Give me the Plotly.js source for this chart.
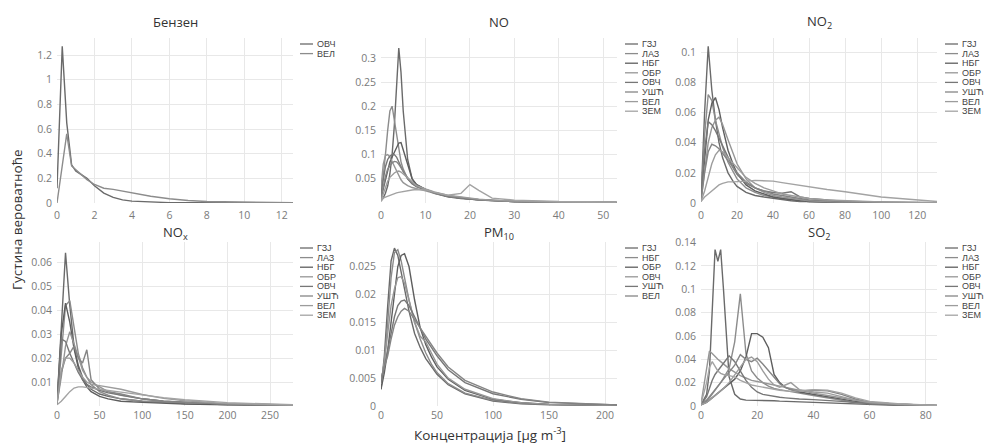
<!DOCTYPE html>
<html><head><meta charset="utf-8">
<script src="https://cdn.plot.ly/plotly-3.0.1.min.js"></script>
<style>html,body{margin:0;padding:0;background:#fff}#chart{width:984px;height:445px}</style>
</head><body><div id="chart"></div>
<script>
// ---- data ----
const stations8 = ['ГЗЈ','ЛАЗ','НБГ','ОБР','ОВЧ','УШЋ','ВЕЛ','ЗЕМ'];
const benzStations = ['ОВЧ','ВЕЛ'];
const pm10Stations = ['ГЗЈ','НБГ','ОБР','ОВЧ','УШЋ','ВЕЛ'];
const panelTitles = ['Бензен','NO','NO<sub>2</sub>','NO<sub>x</sub>','PM<sub>10</sub>','SO<sub>2</sub>'];

const benzX = [0,0.28,0.52,0.78,1.0,1.3,1.6,2.0,2.5,3,3.5,4,5,6,7,8,10,12.6];
const benzY = [
 [0.12,1.27,0.65,0.31,0.26,0.23,0.2,0.14,0.08,0.045,0.025,0.015,0.006,0.003,0.002,0.001,0.0005,0.0003],
 [0.0,0.3,0.56,0.3,0.27,0.23,0.19,0.15,0.12,0.11,0.095,0.08,0.055,0.035,0.02,0.012,0.005,0.002]
];

const noX = [0,0.5,1,1.5,2,2.5,3,3.5,4,4.5,5,6,7,8,10,12,15,18,20,22,25,30,40,53];
const noY = [
 [0.005,0.01,0.02,0.035,0.06,0.1,0.16,0.25,0.32,0.27,0.19,0.09,0.05,0.038,0.028,0.021,0.014,0.01,0.008,0.006,0.005,0.003,0.0015,0.001],
 [0.01,0.05,0.1,0.15,0.19,0.2,0.17,0.14,0.11,0.085,0.07,0.05,0.04,0.034,0.027,0.021,0.014,0.01,0.008,0.006,0.005,0.003,0.0015,0.001],
 [0.01,0.03,0.05,0.07,0.085,0.095,0.105,0.115,0.124,0.125,0.11,0.075,0.05,0.038,0.028,0.02,0.013,0.009,0.008,0.006,0.005,0.003,0.0015,0.001],
 [0.03,0.08,0.098,0.1,0.095,0.085,0.075,0.065,0.055,0.048,0.042,0.036,0.032,0.03,0.025,0.02,0.014,0.01,0.008,0.007,0.005,0.003,0.0015,0.001],
 [0.02,0.05,0.075,0.09,0.097,0.1,0.1,0.095,0.085,0.075,0.065,0.05,0.04,0.034,0.027,0.021,0.014,0.01,0.008,0.007,0.005,0.003,0.0015,0.001],
 [0.01,0.035,0.055,0.07,0.078,0.083,0.086,0.085,0.08,0.073,0.066,0.052,0.042,0.035,0.028,0.022,0.015,0.011,0.009,0.007,0.005,0.003,0.0015,0.001],
 [0.005,0.02,0.035,0.045,0.053,0.058,0.062,0.065,0.066,0.064,0.06,0.052,0.043,0.036,0.029,0.023,0.016,0.012,0.01,0.008,0.006,0.004,0.002,0.001],
 [0.003,0.01,0.012,0.014,0.016,0.018,0.02,0.021,0.022,0.023,0.024,0.026,0.027,0.028,0.027,0.022,0.016,0.02,0.038,0.026,0.01,0.006,0.003,0.002]
];

const no2X = [0,2,4,6,8,10,12,15,18,20,25,30,35,40,45,50,55,60,70,80,100,131];
const no2Y = [
 [0.002,0.06,0.104,0.075,0.055,0.04,0.03,0.02,0.014,0.011,0.007,0.005,0.004,0.003,0.002,0.0015,0.001,0.001,0.0005,0.0003,0.0002,0.0001],
 [0.002,0.045,0.072,0.068,0.055,0.045,0.037,0.027,0.02,0.016,0.01,0.007,0.005,0.004,0.003,0.002,0.0015,0.001,0.0007,0.0005,0.0002,0.0001],
 [0.002,0.03,0.055,0.066,0.07,0.062,0.05,0.035,0.025,0.02,0.012,0.008,0.006,0.004,0.003,0.002,0.0015,0.001,0.0007,0.0005,0.0002,0.0001],
 [0.002,0.02,0.04,0.05,0.055,0.057,0.052,0.042,0.032,0.026,0.016,0.01,0.007,0.005,0.004,0.003,0.002,0.0015,0.001,0.0006,0.0003,0.0001],
 [0.002,0.035,0.054,0.052,0.048,0.043,0.038,0.03,0.023,0.019,0.013,0.01,0.008,0.007,0.0065,0.0075,0.004,0.003,0.002,0.001,0.0005,0.0002],
 [0.001,0.02,0.034,0.039,0.038,0.036,0.033,0.028,0.023,0.02,0.014,0.01,0.008,0.006,0.005,0.004,0.003,0.002,0.0015,0.001,0.0005,0.0002],
 [0.001,0.008,0.017,0.026,0.032,0.035,0.034,0.03,0.026,0.023,0.017,0.013,0.01,0.008,0.006,0.005,0.004,0.003,0.002,0.0015,0.0007,0.0002],
 [0.001,0.004,0.006,0.008,0.01,0.012,0.013,0.014,0.014,0.014,0.0145,0.015,0.015,0.0145,0.0135,0.0125,0.0115,0.011,0.009,0.0075,0.004,0.001]
];

const noxX = [0,5,10,15,20,25,30,35,40,50,60,75,100,125,150,200,277];
const noxY = [
 [0.001,0.035,0.064,0.042,0.025,0.017,0.012,0.009,0.007,0.005,0.004,0.003,0.002,0.0015,0.001,0.0006,0.0003],
 [0.001,0.02,0.042,0.044,0.032,0.022,0.016,0.012,0.009,0.006,0.0045,0.003,0.002,0.0015,0.001,0.0006,0.0003],
 [0.001,0.03,0.043,0.035,0.024,0.016,0.011,0.008,0.006,0.004,0.003,0.002,0.0015,0.001,0.0008,0.0005,0.0002],
 [0.001,0.012,0.025,0.031,0.026,0.02,0.015,0.012,0.01,0.008,0.006,0.0045,0.003,0.002,0.0015,0.0008,0.0004],
 [0.001,0.028,0.027,0.022,0.018,0.014,0.011,0.009,0.008,0.0065,0.0055,0.0045,0.003,0.002,0.0015,0.0008,0.0004],
 [0.001,0.014,0.02,0.022,0.025,0.02,0.018,0.0235,0.011,0.007,0.006,0.005,0.003,0.002,0.0015,0.0008,0.0004],
 [0.001,0.015,0.02,0.02,0.018,0.015,0.012,0.01,0.009,0.0085,0.008,0.007,0.0048,0.0032,0.0022,0.001,0.0004],
 [0.0005,0.002,0.004,0.006,0.0075,0.008,0.008,0.0078,0.0075,0.007,0.0065,0.0058,0.0045,0.0035,0.0026,0.0014,0.0005]
];

const pm10X = [0,3,6,9,12,15,18,21,25,30,35,40,45,50,60,75,100,125,150,211];
const pm10Y = [
 [0.003,0.009,0.018,0.026,0.0283,0.027,0.024,0.021,0.017,0.013,0.0105,0.0085,0.007,0.0057,0.0038,0.0022,0.0009,0.0004,0.0002,0.0001],
 [0.004,0.008,0.015,0.023,0.0275,0.028,0.026,0.023,0.019,0.015,0.012,0.0095,0.0075,0.006,0.004,0.0023,0.001,0.0005,0.0003,0.0001],
 [0.003,0.006,0.01,0.015,0.02,0.025,0.027,0.0273,0.025,0.019,0.014,0.011,0.0088,0.007,0.0048,0.0028,0.0012,0.0006,0.0003,0.0001],
 [0.004,0.008,0.013,0.018,0.021,0.023,0.0232,0.022,0.019,0.015,0.0125,0.0115,0.0095,0.0075,0.005,0.003,0.0013,0.0006,0.0003,0.0001],
 [0.004,0.007,0.01,0.013,0.016,0.018,0.0188,0.019,0.018,0.016,0.014,0.012,0.0105,0.009,0.0065,0.0042,0.0022,0.0012,0.0006,0.0002],
 [0.005,0.007,0.009,0.012,0.0145,0.016,0.017,0.0175,0.017,0.0155,0.014,0.0125,0.011,0.0095,0.007,0.0046,0.0025,0.0013,0.0007,0.0002]
];

const so2X = [0,2,3,4,5,6,7,8,10,12,14,16,18,20,22,24,26,28,30,32,35,40,45,50,55,60,70,84];
const so2Y = [
 [0.001,0.01,0.03,0.08,0.134,0.124,0.134,0.1,0.025,0.01,0.006,0.005,0.005,0.0048,0.0045,0.0045,0.0045,0.0042,0.004,0.0038,0.0035,0.003,0.0025,0.002,0.0015,0.001,0.0005,0.0002],
 [0.001,0.004,0.007,0.01,0.013,0.016,0.02,0.024,0.032,0.055,0.096,0.045,0.03,0.024,0.02,0.017,0.015,0.014,0.013,0.012,0.011,0.009,0.007,0.005,0.003,0.002,0.001,0.0003],
 [0.001,0.003,0.005,0.007,0.009,0.011,0.013,0.015,0.019,0.023,0.03,0.042,0.062,0.062,0.059,0.05,0.027,0.02,0.016,0.014,0.012,0.01,0.008,0.006,0.004,0.003,0.0015,0.0004],
 [0.002,0.03,0.047,0.045,0.042,0.04,0.038,0.036,0.032,0.029,0.026,0.024,0.022,0.021,0.02,0.019,0.018,0.017,0.016,0.015,0.013,0.011,0.009,0.007,0.005,0.003,0.0015,0.0004],
 [0.001,0.008,0.015,0.022,0.027,0.03,0.033,0.036,0.043,0.038,0.03,0.022,0.016,0.012,0.01,0.009,0.008,0.0075,0.007,0.0065,0.006,0.0055,0.005,0.004,0.003,0.002,0.001,0.0003],
 [0.001,0.005,0.008,0.011,0.014,0.017,0.02,0.023,0.028,0.035,0.044,0.04,0.038,0.041,0.036,0.03,0.024,0.019,0.016,0.014,0.013,0.0135,0.013,0.01,0.006,0.003,0.0015,0.0004],
 [0.001,0.003,0.005,0.007,0.009,0.011,0.013,0.015,0.02,0.027,0.034,0.04,0.042,0.038,0.03,0.023,0.018,0.016,0.018,0.02,0.014,0.012,0.011,0.008,0.005,0.003,0.0015,0.0004],
 [0.002,0.02,0.033,0.038,0.034,0.03,0.028,0.027,0.026,0.025,0.022,0.02,0.018,0.017,0.016,0.015,0.014,0.0135,0.013,0.0125,0.013,0.014,0.0135,0.011,0.007,0.004,0.002,0.0005]
];

// tick settings
const yTicks = [
 [0,0.2,0.4,0.6,0.8,1,1.2],
 [0.05,0.1,0.15,0.2,0.25,0.3],
 [0,0.02,0.04,0.06,0.08,0.1],
 [0.01,0.02,0.03,0.04,0.05,0.06],
 [0,0.005,0.01,0.015,0.02,0.025],
 [0,0.02,0.04,0.06,0.08,0.1,0.12,0.14]
];
const xTicks = [
 [0,2,4,6,8,10,12],
 [0,10,20,30,40,50],
 [0,20,40,60,80,100,120],
 [0,50,100,150,200,250],
 [0,50,100,150,200],
 [0,20,40,60,80]
];

// ---- layout helpers ----
const W = 984, H = 445;
const colors = ['#6a6a6a','#8c8c8c','#5e5e5e','#969696','#777777','#858585','#9c9c9c','#a3a3a3'];
const colPx = [[57,293],[381,617],[701,937]];
const rowPx = [[38,203],[242,406]];
const xMax = [12.6,53.1,131,277,210.7,84];
const yMax = [1.338,0.341,0.1095,0.0685,0.0294,0.1405];
const legendX = [300,625,945];
const legendTop = [44,248];
const legendStep = [9.6,9.6];

const panels = [
 {x: benzX, ys: benzY, names: benzStations},
 {x: noX, ys: noY, names: stations8},
 {x: no2X, ys: no2Y, names: stations8},
 {x: noxX, ys: noxY, names: stations8},
 {x: pm10X, ys: pm10Y, names: pm10Stations},
 {x: so2X, ys: so2Y, names: stations8}
];

const traces = [];
const layout = {
  width: W, height: H,
  margin: {l:0, r:0, t:0, b:0},
  paper_bgcolor: '#fff', plot_bgcolor: '#fff',
  showlegend: false,
  font: {family: 'Open Sans, sans-serif', color: '#777'},
  annotations: [], shapes: []
};

const tickFont = {family: 'Open Sans, sans-serif', size: 10.5, color: '#7a7a7a'};
const legFont = {family: 'Liberation Sans Narrow, Liberation Sans, sans-serif', size: 9, color: '#444'};

panels.forEach((p, k) => {
  const col = k % 3, row = Math.floor(k / 3);
  const ax = k === 0 ? '' : String(k + 1);
  p.ys.forEach((yy, i) => {
    traces.push({
      type: 'scatter', mode: 'lines', x: p.x, y: yy, name: p.names[i],
      xaxis: 'x' + ax, yaxis: 'y' + ax,
      line: {color: colors[i % colors.length], width: 1.4},
      hoverinfo: 'x+y+name'
    });
  });
  layout['xaxis' + ax] = {
    domain: [colPx[col][0] / W, colPx[col][1] / W],
    anchor: 'y' + ax, range: [0, xMax[k]],
    tickvals: xTicks[k], ticktext: xTicks[k].map(String),
    showgrid: true, gridcolor: '#e8e8e8', gridwidth: 1,
    zeroline: false, showline: false, ticks: '',
    ticklabelstandoff: row === 0 ? 4 : 1,
    tickfont: tickFont
  };
  layout['yaxis' + ax] = {
    domain: [1 - rowPx[row][1] / H, 1 - rowPx[row][0] / H],
    anchor: 'x' + ax, range: [0, yMax[k]],
    tickvals: yTicks[k], ticktext: yTicks[k].map(String),
    showgrid: true, gridcolor: '#e8e8e8', gridwidth: 1,
    zeroline: false, showline: false, ticks: '',
    ticklabelstandoff: 4,
    tickfont: tickFont
  };
  // panel title
  layout.annotations.push({
    xref: 'paper', yref: 'paper',
    x: (colPx[col][0] + colPx[col][1]) / 2 / W,
    y: 1 - (row === 0 ? 22 : 233) / H,
    xanchor: 'center', yanchor: 'middle', showarrow: false,
    text: panelTitles[k],
    font: {family: 'Open Sans, sans-serif', size: 13, color: '#333'}
  });
  // legend (drawn as text + line samples)
  p.names.forEach((n, i) => {
    const y = legendTop[row] + i * legendStep[row];
    layout.shapes.push({
      type: 'line', xref: 'paper', yref: 'paper',
      x0: legendX[col] / W, x1: (legendX[col] + 13) / W,
      y0: 1 - y / H, y1: 1 - y / H,
      line: {color: colors[i % colors.length], width: 1.3}
    });
    layout.annotations.push({
      xref: 'paper', yref: 'paper',
      x: (legendX[col] + 15) / W, y: 1 - y / H,
      xanchor: 'left', yanchor: 'middle', showarrow: false,
      text: n, font: legFont
    });
  });
});

// common axis titles
layout.annotations.push({
  xref: 'paper', yref: 'paper', x: 490 / W, y: 1 - 434 / H,
  xanchor: 'center', yanchor: 'middle', showarrow: false,
  text: 'Концентрација [μg m<sup>-3</sup>]',
  font: {family: 'Open Sans, sans-serif', size: 13.5, color: '#333'}
});
layout.annotations.push({
  xref: 'paper', yref: 'paper', x: 17 / W, y: 1 - 220 / H,
  xanchor: 'center', yanchor: 'middle', showarrow: false, textangle: -90,
  text: 'Густина вероватноће',
  font: {family: 'Open Sans, sans-serif', size: 13.5, color: '#333'}
});

Plotly.newPlot('chart', traces, layout, {displayModeBar: false, staticPlot: true});
</script>
</body></html>
